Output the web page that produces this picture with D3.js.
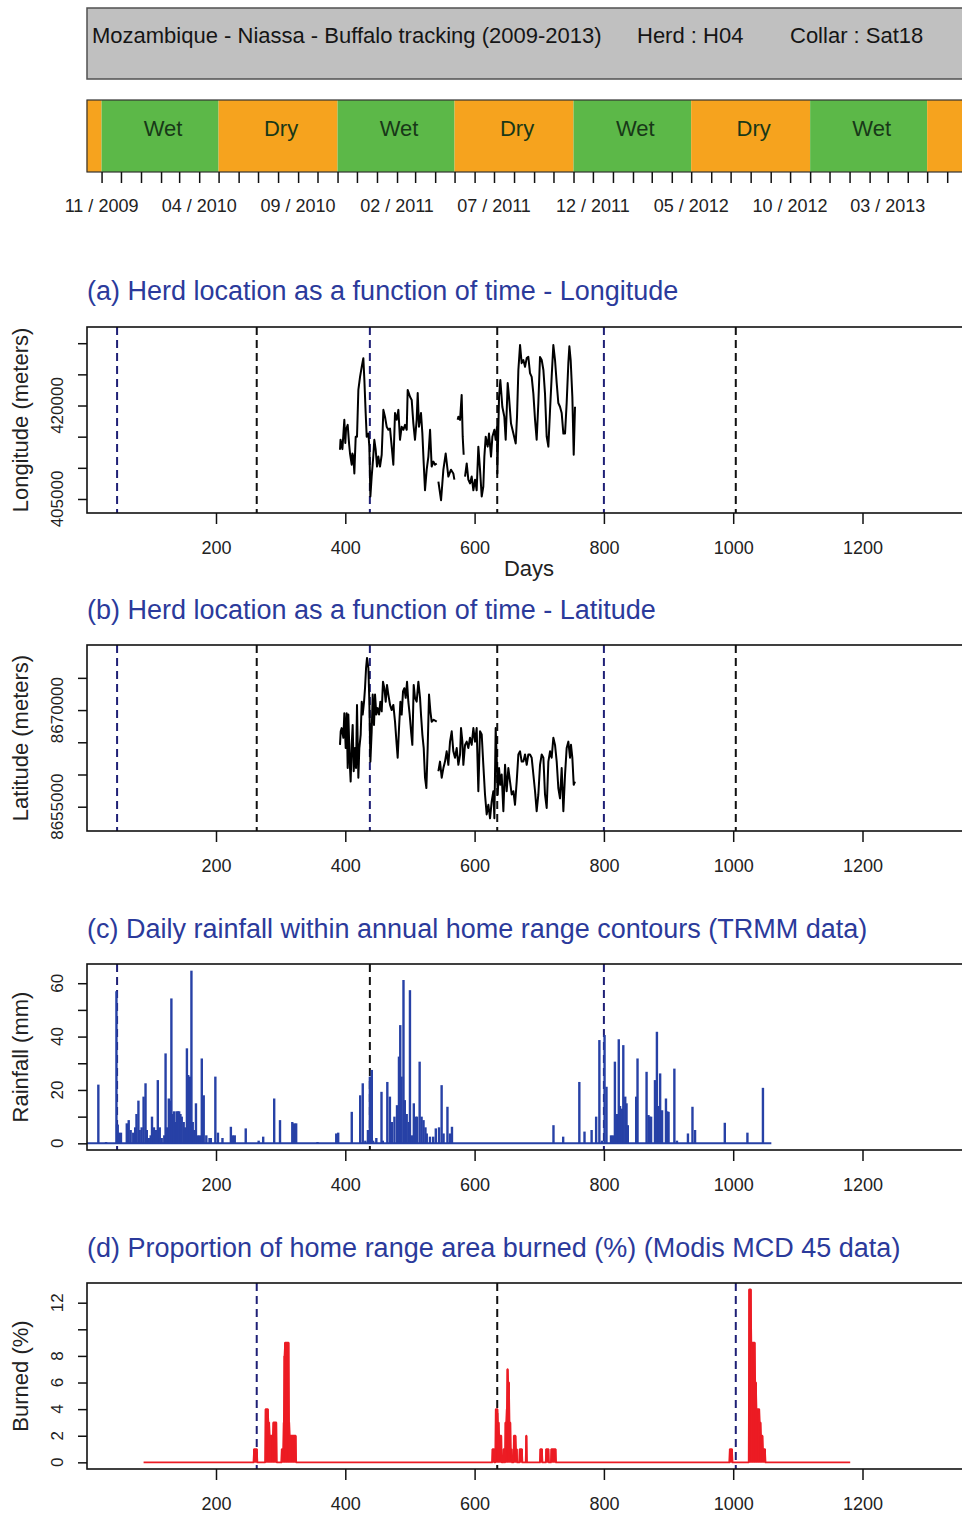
<!DOCTYPE html>
<html><head><meta charset="utf-8">
<script src="https://cdn.jsdelivr.net/npm/d3@7"></script>
<style>
body{margin:0;background:#fff}
svg{display:block}
text{font-family:"Liberation Sans",Arial,Helvetica,sans-serif}
</style>
</head><body>
<svg id="chart" width="962" height="1517"></svg>
<script>
// ---------------- DATA ----------------
const headerTitle = "Mozambique - Niassa - Buffalo tracking (2009-2013)";
const headerHerd = "Herd : H04";
const headerCollar = "Collar : Sat18";

const originDate = "2009-10-09"; // day 0 of the Days axis
const seasonStarts = ["2009-10-09","2009-11-01","2010-05-01","2010-11-01","2011-05-01","2011-11-01","2012-05-01","2012-11-01","2013-05-01"];
const seasonNames  = ["Dry","Wet","Dry","Wet","Dry","Wet","Dry","Wet","Dry"];
const seasonLabelled = [false,true,true,true,true,true,true,true,false];
const timelineLabels = ["11 / 2009","04 / 2010","09 / 2010","02 / 2011","07 / 2011","12 / 2011","05 / 2012","10 / 2012","03 / 2013"];

const dayTicks = [200,400,600,800,1000,1200];

const panelTitles = [
  "(a) Herd location as a function of time - Longitude",
  "(b) Herd location as a function of time - Latitude",
  "(c) Daily rainfall within annual home range contours (TRMM data)",
  "(d) Proportion of home range area burned (%) (Modis MCD 45 data)"
];
const yTitles = ["Longitude (meters)","Latitude (meters)","Rainfall (mm)","Burned (%)"];

const lonTicks = [405000,410000,415000,420000,425000,430000];
const lonTickLabels = [405000,420000];
const latTicks = [8655000,8660000,8665000,8670000,8675000];
const latTickLabels = [8655000,8670000];
const rainTicks = [0,10,20,30,40,50,60];
const rainTickLabels = [0,20,40,60];
const burnTicks = [0,2,4,6,8,10,12];
const burnTickLabels = [0,2,4,6,8,12];

// vertical reference lines (days)
const refDaysA = [47,263,438,635,800,1004];
const refKindA = ["b","k","b","k","b","k"];
const refDaysC = [47,438,800];
const refKindC = ["b","k","b"];
const refDaysD = [263,635,1004];
const refKindD = ["b","k","b"];

// (a) longitude (null = gap)
const lonDays = [391.8,392.6,395.5,398.5,400.0,401.1,403.7,405.8,407.3,409.9,411.0,412.5,414.0,415.0,416.1,418.1,420.2,422.8,425.4,427.9,429.5,431.5,433.1,435.7,437.2,438.8,440.8,442.9,444.9,447.0,449.1,451.1,453.7,456.3,458.9,461.4,464.0,466.6,469.2,471.8,474.3,476.9,479.5,482.1,484.6,487.2,489.8,492.4,495.0,496.5,500.1,502.7,505.3,507.8,510.4,512.0,514.0,517.1,519.2,521.3,523.3,525.9,528.5,531.1,533.6,536.2,538.8,541.4,542.7,544.0,548.1,551.7,555.3,559.4,563.5,567.1,568.7,571.0,573.8,574.9,577.5,580.0,581.6,583.1,584.2,585.2,587.8,590.3,592.9,595.5,598.1,600.7,603.2,605.8,608.4,611.0,613.5,615.1,617.2,620.2,622.3,625.4,627.5,630.6,632.6,634.7,635.2,637.8,639.8,642.9,646.0,648.1,651.2,653.2,656.3,660.0,663.6,665.6,667.7,670.3,672.8,675.4,678.0,680.6,683.1,685.7,688.3,690.9,693.5,696.0,698.6,701.2,703.8,706.4,708.9,711.5,714.1,716.7,719.2,721.8,724.4,727.0,729.5,732.1,734.7,737.3,739.9,742.4,745.0,746.6,748.6,751.2,753.3,755.3];
const lonMeters = [412900,414500,413000,417700,414000,416100,416900,413900,412300,410500,412300,411800,409100,412000,415000,415000,422500,424600,426200,427600,424100,418800,415000,415500,413400,405400,408600,411300,414500,412900,410200,411800,410200,412100,419300,418200,416600,416100,416300,413400,410500,418800,417700,419300,414500,416600,416100,416900,416100,422500,421400,420900,417100,414500,417700,422000,416600,418800,415500,410700,406400,409700,411800,416100,410200,411000,410500,410700,null,407800,404800,409700,412300,408600,409700,409100,408100,null,417700,418200,417700,421700,415000,412100,null,408600,410700,408100,407500,408600,406400,408100,406400,413400,409700,405400,407000,411800,415000,413400,415500,411800,415000,416100,414500,416600,409100,421400,424100,419800,418200,414500,423600,421400,417100,415500,413900,418200,425700,429700,426800,427300,426200,427600,427800,425200,424600,421900,417700,414500,420400,427800,427300,425700,421900,415000,413400,419300,424600,429700,427300,423600,420400,419800,418800,415500,415500,420400,426800,429500,427300,421400,412100,419800];

// (b) latitude (null = gap)
const latDays = [391.8,392.9,394.4,397.0,398.5,400.6,402.1,403.7,404.7,406.8,408.3,409.9,411.4,413.0,415.0,416.6,418.1,420.2,421.7,423.8,425.4,426.9,429.0,430.5,432.1,433.6,435.7,437.2,438.8,440.8,442.4,444.4,446.0,448.0,450.1,452.2,454.2,456.3,458.3,460.4,462.5,464.5,466.6,469.2,471.8,474.3,476.9,479.5,481.0,483.1,485.2,487.2,489.3,491.3,493.4,495.5,497.5,499.6,501.7,503.7,505.8,507.8,510.4,513.0,515.6,517.1,519.2,521.3,523.3,525.4,527.4,529.5,531.6,533.6,536.7,541.4,542.7,544.0,546.5,549.1,551.7,554.2,556.8,559.4,562.0,564.6,567.1,569.7,572.3,574.9,577.5,579.0,581.1,582.6,585.2,587.8,590.3,592.9,595.5,598.1,600.7,603.2,605.8,608.4,611.0,613.5,616.1,618.7,621.3,623.9,626.4,629.0,630.6,632.6,634.2,635.7,637.8,639.8,641.9,644.5,647.1,649.6,652.2,654.8,657.4,660.0,662.5,665.1,667.7,670.3,672.8,675.4,678.0,680.6,683.1,685.7,688.3,690.9,693.5,696.0,698.6,701.2,703.8,706.4,708.9,711.5,714.1,716.7,719.2,721.8,724.4,727.0,729.5,732.1,734.7,737.3,739.9,742.4,745.0,747.6,749.1,751.2,753.3,755.3];
const latMeters = [8664600,8666700,8667200,8665700,8669500,8664100,8669500,8661000,8669300,8662000,8658900,8664600,8667700,8660500,8664100,8661000,8670800,8659500,8664100,8666200,8671300,8669300,8671300,8673400,8676500,8678100,8676500,8671300,8662000,8666700,8672400,8667700,8672400,8669300,8670300,8669300,8671300,8669800,8674400,8673400,8671300,8673900,8672400,8670800,8670000,8670800,8668200,8664600,8662600,8667200,8671300,8669300,8672900,8673400,8671900,8674400,8671300,8669300,8666700,8664600,8673900,8671900,8671300,8674400,8671900,8669300,8666200,8664100,8659500,8657900,8664100,8672400,8669800,8668200,8668500,8668200,null,8660500,8662000,8659500,8661000,8662000,8663600,8661500,8665100,8666700,8663600,8662600,8664100,8661500,8663100,8667200,8665100,8661500,8664600,8665100,8664100,8665700,8664600,8667200,8665100,8667200,8657400,8666700,8666200,8661500,8656900,8653800,8655300,8653200,8655800,8657400,8653200,8667200,8662600,8656900,8661000,8658400,8660000,8654300,8661500,8657400,8661000,8658900,8656900,8657400,8655300,8658900,8663100,8663600,8662000,8662000,8663100,8661500,8663100,8663100,8662600,8660000,8657400,8654300,8656900,8661500,8663100,8662600,8656900,8654800,8662000,8663600,8662600,8665700,8664600,8662000,8657900,8656300,8661000,8654300,8660000,8664100,8665100,8662600,8664600,8662600,8658400,8658900];

// (c) daily rainfall: rainy days only (all other days in rainPeriod are 0 mm)
const rainPeriod = [0,1059];
const rainDays = [18,30,46,47,48,50,51,53,62,65,68,72,75,77,80,82,85,88,91,93,96,99,101,104,107,110,113,116,120,122,124,127,129,131,133,135,137,139,141,143,145,147,150,152,155,157,160,162,164,166,169,172,175,178,181,185,190,192,199,203,210,223,226,229,246,266,273,290,299,318,321,324,357,386,389,410,423,427,431,435,438,441,443,448,456,458,465,469,472,476,480,483,485,487,490,492,495,498,500,503,506,509,511,515,518,521,524,526,531,536,540,545,549,552,558,562,565,722,737,762,770,781,788,793,797,801,804,811,814,817,820,823,825,828,830,833,835,837,850,852,866,869,871,873,879,882,885,887,890,896,898,900,909,913,930,937,941,987,1022,1046];
const rainMm = [22,0.5,57,7,7,4,2,4,7.5,8.7,5,4,6,11,16,5,6,17.5,22.5,5,2,3,10,6,5,23.7,6,2,3,33.7,6,16.8,16,54.3,11,12,8,12,12,12,11,10,8,6,35.6,25.6,25,64.7,8,5,15,3,3,31.8,18,3,2,2,25,4,2,6.2,3,3,5.6,1,2.5,16.8,8.7,8,7.5,7.5,0.5,3.7,4,11.8,18,22.5,1,5,25,27.5,1,2,19.3,1,23,17.5,8,10,14.3,32.5,44.3,25,61.2,16.2,11,8,57.4,3,15,10,10,30.6,10,8.7,6,3.7,2.5,2.5,5.6,6,21.8,3.7,13.7,3.7,6.2,6.8,2.5,23,4.4,5,10,38.7,1,40.6,21.2,3,3,30.6,11,39,14,13,36.8,17.5,15,6.8,17.5,31.8,26.8,10.6,10,10,23.7,41.8,14,26.2,12.4,16.8,12,11.8,28,1,3.7,13.7,5,7.7,4,20.8];

// (d) burned area: burned days only (all other days in burnPeriod are 0 %)
const burnPeriod = [88,1181];
const burnDays = [259,260,261,262,263,277,278,279,280,281,282,283,284,285,286,287,288,289,290,291,292,293,302,303,304,305,306,307,308,309,310,311,312,313,314,315,316,317,318,319,320,321,322,323,628,629,630,633,634,635,636,637,638,639,640,641,645,646,648,649,650,651,652,653,654,655,656,657,661,662,663,664,665,670,671,672,673,680,702,703,704,711,712,713,714,719,720,721,722,723,724,725,995,996,997,998,1025,1026,1027,1028,1029,1030,1031,1032,1033,1034,1035,1036,1037,1038,1039,1040,1041,1042,1043,1044,1045,1046,1047,1048,1049];
const burnPct  = [1,1,1,1,1,4,4,4,4,3,3,2,2,2,2,2,2,3,3,3,3,3,1,1,1,3,8,9,9,9,9,9,9,3,2,2,2,2,2,2,2,2,2,2,1,1,1,4,4,4,3,3,2,2,2,2,1,1,3,3,4,7,6,6,3,3,1,1,2,2,2,1,1,1,1,1,1,2,1,1,1,1,1,1,1,1,1,1,1,1,1,1,1,1,1,1,13,13,13,9,9,9,9,9,9,6,6,4,4,4,4,4,3,3,2,2,2,1,1,1,1];

// ---------------- DRAWING ----------------
const svg = d3.select("#chart");
const FONT = '"Liberation Sans",Arial,Helvetica,sans-serif';
const C = {
  header:"#c0c0c0", green:"#5cb848", orange:"#f6a31e", seasonText:"#183818",
  title:"#2b3a9b", rain:"#2741a6", burn:"#ec1c24", navy:"#1f2076", black:"#111"
};

const xDay = d3.scaleLinear().domain([0,1400]).range([86.7, 991.8]);
const parseDay = d3.utcParse("%Y-%m-%d");
const origin = parseDay(originDate);
const xDate = d3.scaleUtc().domain([origin, d3.utcDay.offset(origin,1400)]).range(xDay.range());

// Header
svg.append("rect").attr("x",87).attr("y",8).attr("width",900).attr("height",71)
  .attr("fill",C.header).attr("stroke","#505050").attr("stroke-width",1.5);
const hdr = svg.append("g").attr("font-size",22).attr("fill","#151515");
hdr.append("text").attr("x",92).attr("y",43).text(headerTitle);
hdr.append("text").attr("x",637).attr("y",43).text(headerHerd);
hdr.append("text").attr("x",790).attr("y",43).text(headerCollar);

// Season bar
const sDates = seasonStarts.map(parseDay);
const barTop = 100, barH = 72;
const segs = sDates.map((d,i) => ({
  start: d, end: i < sDates.length-1 ? sDates[i+1] : d3.utcMonth.offset(d,6),
  name: seasonNames[i], lab: seasonLabelled[i]
}));
svg.append("g").selectAll("rect").data(segs).join("rect")
  .attr("x", d => xDate(d.start)).attr("y", barTop)
  .attr("width", d => xDate(d.end) - xDate(d.start)).attr("height", barH)
  .attr("fill", d => d.name === "Wet" ? C.green : C.orange);
svg.append("rect").attr("x",87).attr("y",barTop).attr("width",900).attr("height",barH)
  .attr("fill","none").attr("stroke","#333").attr("stroke-width",1.2);
svg.append("g").attr("font-size",22).attr("fill",C.seasonText).attr("text-anchor","middle")
  .selectAll("text").data(segs.filter(d => d.lab)).join("text")
  .attr("x", d => (xDate(d.start)+xDate(d.end))/2 + 3).attr("y", barTop + 36)
  .text(d => d.name);

// Timeline axis (monthly ticks)
const monthTicks = d3.utcMonth.range(sDates[1], d3.utcMonth.offset(sDates[1], 44));
const tl = svg.append("g").attr("transform",`translate(0,${barTop+barH})`)
  .call(d3.axisBottom(xDate).tickValues(monthTicks).tickSize(11).tickFormat(""));
tl.select(".domain").remove();
tl.selectAll("line").attr("stroke","#111").attr("stroke-width",1.5);
const parseLab = d3.utcParse("%m / %Y");
svg.append("g").attr("font-size",18).attr("fill","#222").attr("text-anchor","middle")
  .selectAll("text").data(timelineLabels).join("text")
  .attr("x", d => xDate(parseLab(d))).attr("y", 212).text(d => d);

// Panels
const panels = [
  {top:327,bottom:513,dom:[402750,432600],ticks:lonTicks,labs:lonTickLabels,titleY:300,days:refDaysA,kinds:refKindA},
  {top:645,bottom:831,dom:[8651230,8680100],ticks:latTicks,labs:latTickLabels,titleY:619,days:refDaysA,kinds:refKindA},
  {top:964,bottom:1150,dom:[-2.5,67.2],ticks:rainTicks,labs:rainTickLabels,titleY:938,days:refDaysC,kinds:refKindC},
  {top:1283,bottom:1469,dom:[-0.5,13.48],ticks:burnTicks,labs:burnTickLabels,titleY:1257,days:refDaysD,kinds:refKindD}
];

panels.forEach((p,i) => {
  p.y = d3.scaleLinear().domain(p.dom).range([p.bottom,p.top]);
  const g = svg.append("g");
  g.append("text").attr("x",87).attr("y",p.titleY).attr("font-size",27).attr("fill",C.title).text(panelTitles[i]);
  const cid = "clip"+i;
  svg.append("clipPath").attr("id",cid).append("rect")
    .attr("x",87).attr("y",p.top).attr("width",900).attr("height",p.bottom-p.top);
  p.plot = g.append("g").attr("clip-path",`url(#${cid})`);
  const xa = g.append("g").attr("transform",`translate(0,${p.bottom})`)
    .call(d3.axisBottom(xDay).tickValues(dayTicks).tickSize(11).tickPadding(17).tickFormat(d3.format("d")));
  xa.select(".domain").remove();
  xa.selectAll("line").attr("stroke","#111").attr("stroke-width",1.5);
  xa.selectAll("text").attr("font-size",18).attr("font-family",FONT).attr("fill","#222");
  const ya = g.append("g").attr("transform","translate(87,0)")
    .call(d3.axisLeft(p.y).tickValues(p.ticks).tickSize(9).tickFormat(""));
  ya.select(".domain").remove();
  ya.selectAll("line").attr("stroke","#111").attr("stroke-width",1.5);
  g.append("g").attr("font-size",17).attr("fill","#222").attr("text-anchor","middle")
    .selectAll("text").data(p.labs).join("text")
    .attr("transform", d => `translate(63,${p.y(d)}) rotate(-90)`).text(d => d);
  g.append("text").attr("transform",`translate(28,${(p.top+p.bottom)/2}) rotate(-90)`)
    .attr("text-anchor","middle").attr("font-size",22).attr("fill","#222").text(yTitles[i]);
  p.plot.selectAll("line.ref").data(p.days.map((d,j)=>({d,k:p.kinds[j]}))).join("line")
    .attr("x1", d => xDay(d.d)).attr("x2", d => xDay(d.d))
    .attr("y1", p.top).attr("y2", p.bottom)
    .attr("stroke", d => d.k === "b" ? C.navy : C.black)
    .attr("stroke-width",2).attr("stroke-dasharray","8,5");
});

svg.append("text").attr("x",529).attr("y",576).attr("text-anchor","middle").attr("font-size",22).attr("fill","#222").text("Days");

const lonData = lonDays.map((d,i)=>({d, v: lonMeters[i]}));
panels[0].plot.append("path").datum(lonData)
  .attr("fill","none").attr("stroke","#000").attr("stroke-width",2).attr("stroke-linejoin","round")
  .attr("d", d3.line().defined(d => d.v !== null).x(d => xDay(d.d)).y(d => panels[0].y(d.v)));

const latData = latDays.map((d,i)=>({d, v: latMeters[i]}));
panels[1].plot.append("path").datum(latData)
  .attr("fill","none").attr("stroke","#000").attr("stroke-width",2).attr("stroke-linejoin","round")
  .attr("d", d3.line().defined(d => d.v !== null).x(d => xDay(d.d)).y(d => panels[1].y(d.v)));

const pc = panels[2];
pc.plot.append("line").attr("x1",xDay(rainPeriod[0])).attr("x2",xDay(rainPeriod[1]))
  .attr("y1",pc.y(0)).attr("y2",pc.y(0)).attr("stroke",C.rain).attr("stroke-width",2);
pc.plot.selectAll("line.rain").data(rainDays.map((d,i)=>({d,v:rainMm[i]}))).join("line")
  .attr("x1", d => xDay(d.d)).attr("x2", d => xDay(d.d))
  .attr("y1", pc.y(0)).attr("y2", d => pc.y(d.v))
  .attr("stroke",C.rain).attr("stroke-width",2.4);

const pd = panels[3];
const burnMap = new Map(burnDays.map((d,i)=>[d,burnPct[i]]));
const burnDaily = d3.range(burnPeriod[0], burnPeriod[1]+1).map(d => ({d, v: burnMap.get(d) || 0}));
pd.plot.selectAll("line.burn").data(burnDays.map((d,i)=>({d,v:burnPct[i]}))).join("line")
  .attr("x1", d => xDay(d.d)).attr("x2", d => xDay(d.d))
  .attr("y1", pd.y(0)).attr("y2", d => pd.y(d.v))
  .attr("stroke",C.burn).attr("stroke-width",2.2);
pd.plot.append("path").datum(burnDaily)
  .attr("fill","none").attr("stroke",C.burn).attr("stroke-width",1.8).attr("stroke-linejoin","round")
  .attr("d", d3.line().x(d => xDay(d.d)).y(d => pd.y(d.v)));

panels.forEach(p => {
  svg.append("rect").attr("x",87).attr("y",p.top).attr("width",900).attr("height",p.bottom-p.top)
    .attr("fill","none").attr("stroke","#111").attr("stroke-width",1.6);
});
</script>
</body></html>
